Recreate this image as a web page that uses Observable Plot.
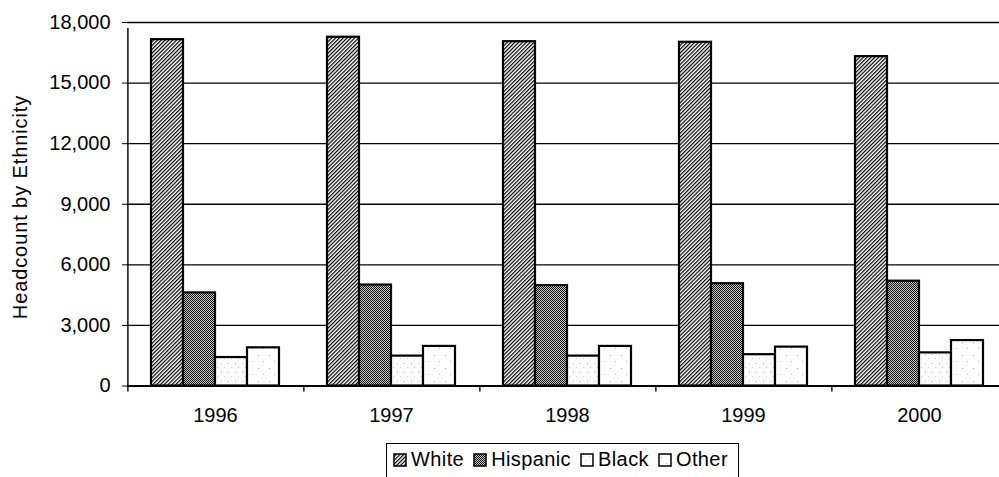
<!DOCTYPE html>
<html>
<head>
<meta charset="utf-8">
<script src="https://cdn.jsdelivr.net/npm/d3@7"></script>
<script src="https://cdn.jsdelivr.net/npm/@observablehq/plot@0.6"></script>
<style>
  html, body { margin: 0; padding: 0; background: #fff; overflow: hidden; }
  #wrap { position: relative; width: 999px; height: 477px; overflow: hidden; font-family: "Liberation Sans", Arial, sans-serif; color: #000; }
  #ytitle { position: absolute; left: 20px; top: 207px; transform: translate(-50%, -50%) rotate(-90deg); white-space: nowrap; font-size: 20px; letter-spacing: 0.9px; }
  #legend { position: absolute; left: 386px; top: 443px; height: 44px; border: 1.5px solid #000; box-sizing: border-box; padding: 4px 10px 0 6px; display: flex; align-items: flex-start; font-size: 20px; letter-spacing: 0.4px; background: #fff; }
  #legend .item { display: flex; align-items: center; margin-right: 9px; }
  #legend .item:last-child { margin-right: 0; }
  #legend svg { margin-right: 4px; }
</style>
</head>
<body>
<svg width="0" height="0" style="position:absolute">
  <defs>
    <pattern id="pWhite" patternUnits="userSpaceOnUse" width="2.7" height="2.7" patternTransform="rotate(45)">
      <rect width="2.7" height="2.7" fill="#fff"></rect>
      <rect width="1.2" height="2.7" fill="#000"></rect>
    </pattern>
    <pattern id="pHispanic" patternUnits="userSpaceOnUse" width="2" height="2">
      <rect width="2" height="2" fill="#c8c8c8"></rect>
      <rect x="0" y="0" width="1" height="1" fill="#111"></rect>
      <rect x="1" y="1" width="1" height="1" fill="#111"></rect>
    </pattern>
    <pattern id="pBlack" patternUnits="userSpaceOnUse" width="7" height="9">
      <rect width="7" height="9" fill="#fff"></rect>
      <rect x="2" y="3" width="1" height="1" fill="#bbb"></rect>
      <rect x="5" y="7" width="1" height="1" fill="#ccc"></rect>
    </pattern>
    <pattern id="pOther" patternUnits="userSpaceOnUse" width="11" height="13">
      <rect width="11" height="13" fill="#fff"></rect>
      <rect x="3" y="4" width="1" height="1" fill="#aaa"></rect>
      <rect x="8" y="10" width="1" height="1" fill="#bbb"></rect>
    </pattern>
  </defs>
</svg>
<div id="wrap">
  <div id="chart"></div>
  <div id="ytitle">Headcount by Ethnicity</div>
  <div id="legend"></div>
</div>
<script>
const years = ["1996", "1997", "1998", "1999", "2000"];
const series = ["White", "Hispanic", "Black", "Other"];
const white = [17150, 17270, 17050, 17020, 16310];
const hispanic = [4610, 5000, 4975, 5065, 5190];
const black = [1410, 1480, 1480, 1550, 1640];
const other = [1890, 1960, 1960, 1925, 2250];
const yTicks = [0, 3000, 6000, 9000, 12000, 15000, 18000];
const patterns = ["url(#pWhite)", "url(#pHispanic)", "url(#pBlack)", "url(#pOther)"];

const valuesBySeries = [white, hispanic, black, other];
const data = years.flatMap((yr, i) => series.map((s, k) => ({year: yr, group: s, value: valuesBySeries[k][i]})));

// layout constants
const outerPad = 0.72;
const bandStep = 883 / years.length / (series.length + 2 * outerPad);
const edgeDx = -(outerPad + 0.5) * bandStep;

const chart = Plot.plot({
  width: 999,
  height: 440,
  marginLeft: 125,
  marginRight: 0,
  marginTop: 22,
  marginBottom: 54.5,
  style: {fontFamily: "'Liberation Sans', Arial, sans-serif", fontSize: "20px", color: "#000", background: "transparent", overflow: "hidden"},
  fx: {domain: years, range: [125, 1008], padding: 0, label: null, tickSize: 0, tickPadding: 22, axis: "bottom"},
  x: {domain: series, paddingInner: 0, paddingOuter: outerPad, axis: null},
  y: {domain: [0, 18000], ticks: yTicks, tickFormat: d3.format(","), tickSize: 5, tickPadding: 12, label: null},
  color: {domain: series, range: patterns},
  marks: [
    Plot.ruleY(yTicks, {stroke: "#000", strokeWidth: 1.4}),
    Plot.barY(data, {fx: "year", x: "group", y: "value", fill: "group", stroke: "#000", strokeWidth: 2.2}),
    Plot.ruleX([years[0]], {fx: d => d, x: () => series[0], y1: 0, y2: 18000, dx: edgeDx, insetBottom: -6, stroke: "#000", strokeWidth: 1.4}),
    Plot.ruleX(years, {fx: d => d, x: () => series[0], y1: 0, y2: 0, dx: edgeDx, insetBottom: -6, stroke: "#000", strokeWidth: 1.4}),
    Plot.ruleY([0], {stroke: "#000", strokeWidth: 2})
  ]
});
document.getElementById("chart").appendChild(chart);

// legend
const legend = document.getElementById("legend");
series.forEach((s, k) => {
  const item = document.createElement("div");
  item.className = "item";
  item.innerHTML = `<svg width="14" height="14"><rect x="1" y="1" width="12" height="12" fill="${patterns[k]}" stroke="#000" stroke-width="1.5"></rect></svg><span>${s}</span>`;
  legend.appendChild(item);
});
</script>
</body>
</html>
